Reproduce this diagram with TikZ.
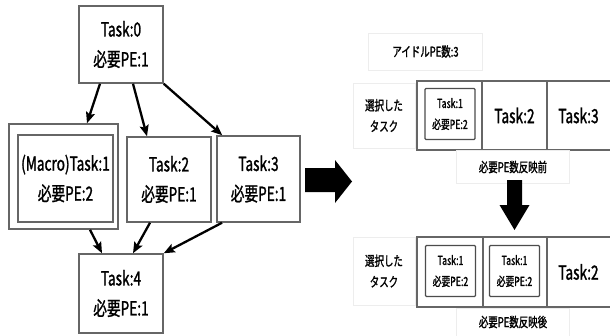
\documentclass[tikz,border=0pt]{standalone}
\usepackage{fontspec}
\setmainfont[FakeStretch=0.7, FakeBold=1.3]{Noto Sans CJK JP}
\usetikzlibrary{arrows.meta}
\begin{document}
\begin{tikzpicture}[x=1pt,y=-1pt,
  box/.style={draw=black!60, line width=1.5pt, align=center, inner sep=0pt,
    font=\fontsize{19.5}{30}\selectfont},
  conn/.style={line width=2.3pt, -{Stealth[length=11pt,width=9pt,inset=2pt]}},
  cell/.style={draw=black!60, line width=1.3pt, inner sep=0pt, font=\fontsize{19.5}{30}\selectfont},
  mini/.style={draw=black!70, line width=1.3pt, rounded corners=1pt, align=center, inner sep=0pt,
    minimum width=50pt, minimum height=51pt, font=\fontsize{12.5}{21}\selectfont},
  lbl/.style={draw=black!7, line width=0.8pt, align=center, inner sep=0pt,
    font=\fontsize{13.5}{21}\selectfont},
  bigarrow/.style={fill=black}
]
\useasboundingbox (0,0) rectangle (610,335);
\fill[white] (0,0) rectangle (610,335);

% left graph
\node[box, minimum width=84pt, minimum height=77pt] (t0) at (121,44.5) {Task:0\\必要PE:1};
\node[box, minimum width=109pt, minimum height=105pt] (m) at (63.5,176.5) {};
\node[box, minimum width=95pt, minimum height=87pt] (mi) at (65.5,178.5) {(Macro)Task:1\\必要PE:2};
\node[box, minimum width=84pt, minimum height=85pt] (t2) at (169,179.5) {Task:2\\必要PE:1};
\node[box, minimum width=83pt, minimum height=86pt] (t3) at (258.5,179) {Task:3\\必要PE:1};
\node[box, minimum width=84pt, minimum height=79pt] (t4) at (121,293.5) {Task:4\\必要PE:1};

\draw[conn] ([xshift=-21pt]t0.south) -- ([xshift=23.5pt]m.north);
\draw[conn] ([xshift=12pt]t0.south) -- ([xshift=-22pt]t2.north);
\draw[conn] (t0.south east) -- ([xshift=6pt]t3.north west);
\draw[conn] ([xshift=26.5pt]m.south) -- ([xshift=-19pt]t4.north);
\draw[conn] ([xshift=-19pt]t2.south) -- ([xshift=12pt]t4.north);
\draw[conn] ([xshift=-36.5pt]t3.south) -- (t4.north east);

% big right arrow
\fill[bigarrow] (305,168) -- (335,168) -- (335,160) -- (352,181.5) -- (335,203) -- (335,192) -- (305,192) -- cycle;

% right: top
\node[lbl, minimum width=114pt, minimum height=37pt] (idle) at (425.5,51.5) {アイドルPE数:3};
\node[lbl, minimum width=62pt, minimum height=65pt] (sel1) at (384,115.5) {選択した\\タスク};
\node[cell, minimum width=65pt, minimum height=69pt] (a1) at (449.5,115.5) {};
\node[cell, minimum width=65pt, minimum height=69pt] (a2) at (514.5,115.5) {Task:2};
\node[cell, minimum width=67pt, minimum height=69pt, anchor=west] (a3) at (547,115.5) {};
\node[font=\fontsize{19.5}{30}\selectfont] at (578.5,115.5) {Task:3};
\node[mini] (a1i) at (450,114) {Task:1\\必要PE:2};
\node[lbl, minimum width=113pt, minimum height=33pt] (before) at (513,167) {必要PE数反映前};

% down arrow
\fill[bigarrow] (507,180) -- (522,180) -- (522,205) -- (529.5,205) -- (514.5,230) -- (499.5,205) -- (507,205) -- cycle;

% right: bottom
\node[lbl, minimum width=62pt, minimum height=68pt] (sel2) at (384,271) {選択した\\タスク};
\node[cell, minimum width=66pt, minimum height=70pt] (b1) at (450,272) {};
\node[cell, minimum width=64pt, minimum height=70pt] (b2) at (515,272) {};
\node[cell, minimum width=67pt, minimum height=70pt, anchor=west] (b3) at (547,272) {};
\node[font=\fontsize{19.5}{30}\selectfont] at (578.5,272) {Task:2};
\node[mini] (b1i) at (450.5,271) {Task:1\\必要PE:2};
\node[mini] (b2i) at (514.5,271) {Task:1\\必要PE:2};
\node[lbl, minimum width=113pt, minimum height=28pt] (after) at (513,322) {必要PE数反映後};
\end{tikzpicture}
\end{document}
